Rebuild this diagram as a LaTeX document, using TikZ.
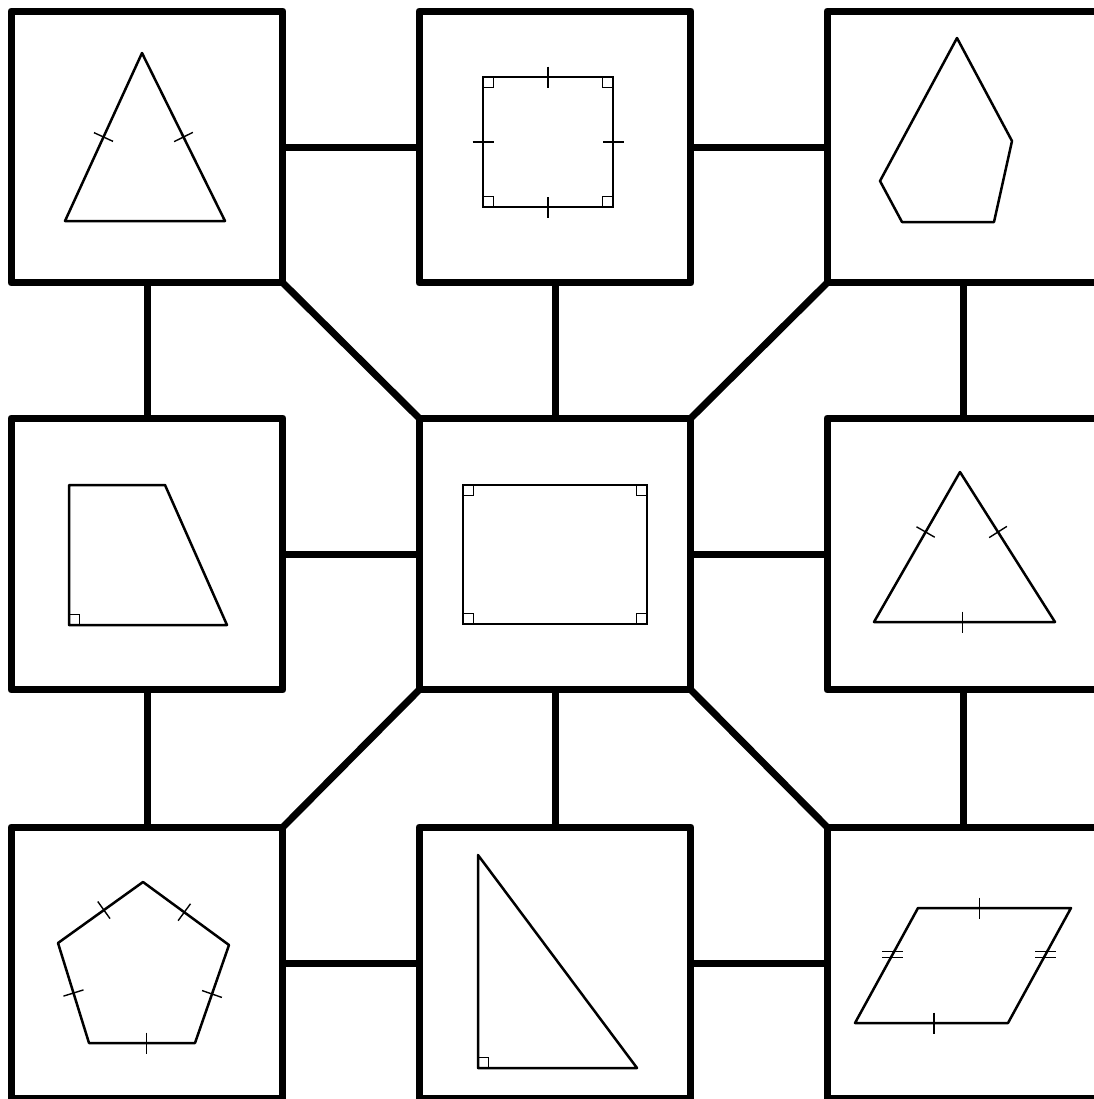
\documentclass[tikz,border=0pt]{standalone}
\usetikzlibrary{calc}
\tikzset{
  panel/.style={draw, rectangle, line width=0.14cm, minimum width=5.44cm, minimum height=5.44cm, inner sep=0pt, outer sep=0pt, line join=round},
  link/.style={line width=0.14cm},
  fig/.style={line width=0.05cm, line join=round},
  tk/.style={line width=0.028cm},
}
\newcommand\tickat[3]{%
  \coordinate (tkm) at ($(#1)!#3!(#2)$);
  \draw[tk] ($(tkm)!0.21cm!90:(#2)$) -- ($(tkm)!0.21cm!-90:(#2)$);}
\begin{document}
\begin{tikzpicture}[x=0.02cm,y=-0.02cm]
\useasboundingbox (0,0) rectangle (1094,1099);
\clip (0,0) rectangle (1094,1099);
\fill[white] (0,0) rectangle (1094,1099);
% panels
\node[panel] (b1) at (147,147) {};
\node[panel] (b2) at (555,147) {};
\node[panel] (b3) at (963,147) {};
\node[panel] (b4) at (147,554) {};
\node[panel] (b5) at (555,554) {};
\node[panel] (b6) at (963,554) {};
\node[panel] (b7) at (147,963) {};
\node[panel] (b8) at (555,963) {};
\node[panel] (b9) at (963,963) {};
% connectors
\draw[link] (b1.east) -- (b2.west);
\draw[link] (b2.east) -- (b3.west);
\draw[link] (b4.east) -- (b5.west);
\draw[link] (b5.east) -- (b6.west);
\draw[link] (b7.east) -- (b8.west);
\draw[link] (b8.east) -- (b9.west);
\draw[link] (b1.south) -- (b4.north);
\draw[link] (b2.south) -- (b5.north);
\draw[link] (b3.south) -- (b6.north);
\draw[link] (b4.south) -- (b7.north);
\draw[link] (b5.south) -- (b8.north);
\draw[link] (b6.south) -- (b9.north);
\draw[link] (b1.south east) -- (b5.north west);
\draw[link] (b3.south west) -- (b5.north east);
\draw[link] (b7.north east) -- (b5.south west);
\draw[link] (b9.north west) -- (b5.south east);
% box 1: isosceles triangle
\coordinate (t1a) at (142,53);
\coordinate (t1r) at (225,221);
\coordinate (t1l) at (65,221);
\draw[fig] (t1a) -- (t1r) -- (t1l) -- cycle;
\tickat{t1l}{t1a}{0.5}
\tickat{t1r}{t1a}{0.5}
% box 2: square
\coordinate (s2a) at (483,77);
\coordinate (s2b) at (613,77);
\coordinate (s2c) at (613,207);
\coordinate (s2d) at (483,207);
\draw[fig] (s2a) -- (s2b) -- (s2c) -- (s2d) -- cycle;
\draw[tk] (s2a) rectangle ++(10.5,10.5);
\draw[tk] (s2b) rectangle ++(-10.5,10.5);
\draw[tk] (s2c) rectangle ++(-10.5,-10.5);
\draw[tk] (s2d) rectangle ++(10.5,-10.5);
\tickat{s2a}{s2b}{0.5}
\tickat{s2b}{s2c}{0.5}
\tickat{s2c}{s2d}{0.5}
\tickat{s2d}{s2a}{0.5}
% box 3: irregular pentagon
\draw[fig] (957,38) -- (1012,141) -- (994,222) -- (902,222) -- (880,181) -- cycle;
% box 4: right trapezoid
\coordinate (q4a) at (69,485);
\coordinate (q4d) at (69,625);
\draw[fig] (q4a) -- (165,485) -- (227,625) -- (q4d) -- cycle;
\draw[tk] (q4d) rectangle ++(10.5,-10.5);
% box 5: rectangle
\coordinate (r5a) at (463,485);
\coordinate (r5b) at (647,485);
\coordinate (r5c) at (647,624);
\coordinate (r5d) at (463,624);
\draw[fig] (r5a) -- (r5b) -- (r5c) -- (r5d) -- cycle;
\draw[tk] (r5a) rectangle ++(10.5,10.5);
\draw[tk] (r5b) rectangle ++(-10.5,10.5);
\draw[tk] (r5c) rectangle ++(-10.5,-10.5);
\draw[tk] (r5d) rectangle ++(10.5,-10.5);
% box 6: equilateral triangle
\coordinate (t6a) at (960,472);
\coordinate (t6r) at (1055,622);
\coordinate (t6l) at (874,622);
\draw[fig] (t6a) -- (t6r) -- (t6l) -- cycle;
\tickat{t6l}{t6a}{0.6}
\tickat{t6r}{t6a}{0.6}
\tickat{t6l}{t6r}{0.49}
% box 7: regular pentagon
\coordinate (p7a) at (143,882);
\coordinate (p7b) at (229,945);
\coordinate (p7c) at (195,1043);
\coordinate (p7d) at (89,1043);
\coordinate (p7e) at (58,943);
\draw[fig] (p7a) -- (p7b) -- (p7c) -- (p7d) -- (p7e) -- cycle;
\tickat{p7e}{p7a}{0.54}
\tickat{p7a}{p7b}{0.48}
\tickat{p7b}{p7c}{0.5}
\tickat{p7d}{p7c}{0.54}
\tickat{p7d}{p7e}{0.5}
% box 8: right triangle
\coordinate (t8a) at (478,855);
\coordinate (t8b) at (478,1068);
\coordinate (t8c) at (637,1068);
\draw[fig] (t8a) -- (t8b) -- (t8c) -- cycle;
\draw[tk] (t8b) rectangle ++(10.5,-10.5);
% box 9: parallelogram
\coordinate (g9a) at (918,908);
\coordinate (g9b) at (1071,908);
\coordinate (g9c) at (1008,1023);
\coordinate (g9d) at (855,1023);
\draw[fig] (g9a) -- (g9b) -- (g9c) -- (g9d) -- cycle;
\tickat{g9a}{g9b}{0.4}
\tickat{g9d}{g9c}{0.516}
\draw[tk] (882,951.5) -- ++(21,0);
\draw[tk] (882,957.5) -- ++(21,0);
\draw[tk] (1035,951.5) -- ++(21,0);
\draw[tk] (1035,957.5) -- ++(21,0);
\end{tikzpicture}
\end{document}
